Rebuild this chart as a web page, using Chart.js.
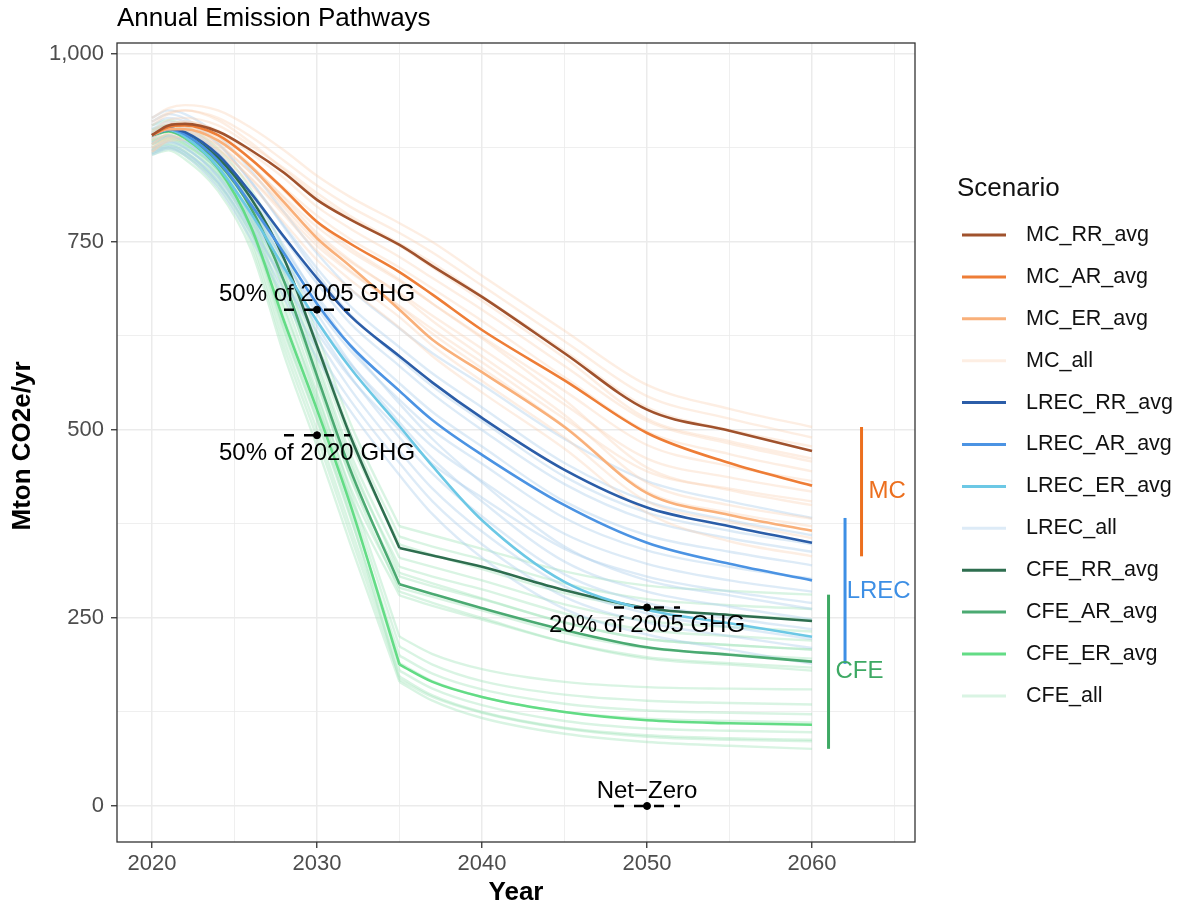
<!DOCTYPE html>
<html><head><meta charset="utf-8">
<script src="https://cdn.jsdelivr.net/npm/chart.js@4.4.0/dist/chart.umd.min.js"></script>
<style>html,body{margin:0;padding:0;background:#fff;overflow:hidden}</style>
</head><body>
<canvas id="c" width="1179" height="909"></canvas>
<script>
// ---------------- DATA ----------------
const years = [2020, 2021, 2022, 2024, 2026, 2028, 2030, 2032, 2035, 2037, 2040, 2045, 2050, 2055, 2060];

const MC_RR_avg   = [892, 905, 907, 897, 872, 842, 806, 780, 746, 718, 677, 602, 527, 499, 472];
const MC_AR_avg   = [892, 903, 905, 892, 860, 820, 777, 748, 710, 680, 633, 566, 496, 456, 426];
const MC_ER_avg   = [892, 900, 900, 885, 850, 803, 755, 718, 660, 620, 577, 504, 416, 387, 366];
const LREC_RR_avg = [892, 901, 896, 866, 815, 757, 702, 652, 598, 563, 516, 447, 397, 372, 350];
const LREC_AR_avg = [892, 900, 893, 858, 800, 735, 668, 613, 552, 513, 467, 400, 350, 322, 300];
const LREC_ER_avg = [892, 899, 890, 850, 788, 716, 645, 583, 505, 452, 380, 298, 261, 243, 225];
const CFE_RR_avg  = [892, 899, 893, 862, 808, 728, 612, 493, 343, 333, 318, 287, 263, 254, 246];
const CFE_AR_avg  = [892, 898, 890, 856, 795, 698, 572, 448, 295, 282, 263, 234, 211, 201, 192];
const CFE_ER_avg  = [892, 897, 888, 848, 770, 645, 527, 402, 188, 165, 145, 125, 114, 110, 108];

const MC_all = [
 [915, 928, 932, 925, 902, 872, 838, 810, 775, 750, 705, 632, 560, 528, 504],
 [905, 920, 925, 915, 890, 858, 825, 797, 762, 736, 692, 618, 545, 515, 490],
 [898, 912, 915, 905, 878, 848, 815, 785, 748, 722, 678, 605, 530, 500, 478],
 [890, 905, 910, 898, 868, 835, 797, 768, 730, 702, 660, 585, 512, 482, 458],
 [885, 900, 903, 890, 860, 822, 785, 754, 716, 688, 645, 570, 498, 468, 445],
 [880, 895, 898, 884, 850, 810, 770, 738, 698, 668, 624, 552, 480, 452, 432],
 [875, 890, 894, 878, 842, 800, 758, 724, 682, 652, 608, 534, 462, 437, 418],
 [870, 886, 890, 872, 835, 790, 745, 710, 665, 634, 590, 515, 445, 422, 405],
 [895, 908, 910, 896, 860, 818, 776, 742, 700, 668, 622, 540, 450, 420, 400],
 [888, 900, 902, 888, 852, 808, 762, 726, 680, 645, 598, 520, 430, 400, 382],
 [880, 894, 896, 880, 842, 796, 750, 712, 664, 628, 582, 505, 418, 390, 372],
 [875, 888, 890, 874, 834, 786, 738, 700, 650, 612, 565, 490, 405, 378, 356],
 [910, 922, 925, 912, 882, 846, 810, 782, 745, 716, 672, 596, 515, 485, 462],
 [870, 884, 886, 868, 826, 776, 726, 688, 636, 598, 550, 475, 390, 352, 332]
];
const LREC_all = [
 [915, 925, 920, 892, 845, 790, 735, 688, 635, 602, 560, 488, 432, 405, 383],
 [905, 915, 910, 880, 830, 772, 715, 665, 610, 575, 530, 456, 405, 380, 360],
 [895, 906, 900, 868, 815, 755, 695, 642, 585, 548, 500, 428, 380, 356, 338],
 [888, 898, 892, 858, 802, 740, 678, 624, 562, 524, 478, 405, 360, 338, 320],
 [880, 890, 884, 848, 790, 726, 662, 606, 540, 500, 455, 383, 340, 318, 302],
 [872, 882, 875, 838, 778, 712, 645, 588, 520, 478, 432, 362, 322, 300, 285],
 [868, 876, 868, 830, 768, 698, 630, 570, 500, 455, 410, 342, 305, 285, 270],
 [900, 910, 904, 870, 812, 745, 675, 612, 535, 488, 430, 345, 300, 280, 262],
 [890, 900, 893, 856, 796, 726, 655, 590, 510, 462, 405, 325, 285, 265, 248],
 [882, 892, 884, 846, 784, 712, 638, 572, 490, 442, 385, 308, 270, 250, 235],
 [875, 884, 876, 836, 772, 698, 622, 555, 472, 422, 365, 292, 256, 238, 222],
 [870, 878, 870, 828, 762, 686, 608, 540, 456, 405, 348, 278, 244, 226, 210],
 [910, 920, 914, 882, 830, 770, 708, 654, 595, 558, 512, 438, 390, 366, 348],
 [866, 874, 865, 822, 754, 676, 596, 526, 440, 388, 330, 262, 228, 208, 189]
];
const CFE_all = [
 [905, 912, 905, 874, 820, 740, 628, 510, 372, 360, 342, 312, 293, 286, 281],
 [898, 905, 898, 866, 810, 728, 615, 498, 358, 345, 328, 296, 275, 267, 262],
 [890, 897, 890, 858, 802, 718, 603, 485, 348, 334, 315, 283, 262, 254, 248],
 [885, 892, 884, 852, 795, 708, 592, 470, 330, 318, 300, 268, 246, 238, 232],
 [880, 887, 879, 846, 786, 696, 578, 455, 318, 305, 288, 256, 234, 226, 220],
 [876, 883, 874, 840, 778, 686, 565, 440, 305, 292, 275, 244, 222, 214, 208],
 [872, 879, 870, 834, 770, 675, 550, 425, 290, 278, 260, 230, 210, 202, 196],
 [868, 875, 866, 828, 762, 665, 538, 412, 280, 266, 248, 218, 198, 190, 184],
 [895, 902, 893, 860, 800, 708, 586, 462, 310, 296, 276, 244, 222, 214, 208],
 [882, 889, 880, 846, 782, 688, 562, 438, 285, 270, 250, 218, 196, 188, 180],
 [900, 906, 897, 862, 790, 660, 545, 420, 225, 202, 182, 165, 158, 156, 155],
 [892, 898, 889, 853, 780, 650, 535, 410, 212, 188, 166, 148, 140, 137, 135],
 [886, 892, 882, 845, 772, 640, 522, 396, 200, 176, 155, 136, 127, 124, 122],
 [880, 886, 876, 838, 764, 630, 512, 385, 190, 166, 145, 125, 116, 113, 111],
 [874, 880, 870, 830, 755, 620, 500, 372, 180, 156, 134, 113, 103, 100, 98],
 [870, 876, 865, 824, 748, 610, 490, 362, 172, 147, 125, 104, 94, 90, 88],
 [866, 872, 860, 818, 740, 600, 478, 350, 165, 140, 117, 96, 85, 80, 76],
 [884, 890, 880, 842, 768, 634, 515, 388, 168, 145, 124, 103, 92, 88, 86]
];
const cfeKinkYear = 2035;

const scenarioNames = ['MC_RR_avg','MC_AR_avg','MC_ER_avg','MC_all',
  'LREC_RR_avg','LREC_AR_avg','LREC_ER_avg','LREC_all',
  'CFE_RR_avg','CFE_AR_avg','CFE_ER_avg','CFE_all'];

const targetLabels = ['50% of 2005 GHG', '50% of 2020 GHG', '20% of 2005 GHG', 'Net\u2212Zero'];
const targetYears  = [2030, 2030, 2050, 2050];
const targetValues = [660, 493, 264, 0];

const groupNames   = ['MC', 'LREC', 'CFE'];
const bracketYears = [2063, 2062, 2061];

const yTicks = [0, 125, 250, 375, 500, 625, 750, 875, 1000];
const yMajor = [0, 250, 500, 750, 1000];
const xTicks = [2020, 2025, 2030, 2035, 2040, 2045, 2050, 2055, 2060, 2065];
const xMajor = [2020, 2030, 2040, 2050, 2060];

// ---------------- STYLE ----------------
const FONT = '"Liberation Sans", Arial, Helvetica, sans-serif';
const colors = {
  MC_RR_avg:'#A0522D', MC_AR_avg:'#EE7D36', MC_ER_avg:'#F9B07A', MC_all:'rgba(249,205,175,0.35)',
  LREC_RR_avg:'#2B5DA8', LREC_AR_avg:'#4B93E3', LREC_ER_avg:'#6CC8E5', LREC_all:'rgba(170,205,235,0.4)',
  CFE_RR_avg:'#2E6E4F', CFE_AR_avg:'#4BAA72', CFE_ER_avg:'#63DC85', CFE_all:'rgba(160,228,185,0.4)'
};
const groupColors = {MC:'#EC6F1E', LREC:'#3D8FE5', CFE:'#3EA964'};

const pts = arr => years.map((x, i) => ({x, y: arr[i]}));
const kIdx = years.indexOf(cfeKinkYear);
const datasets = [];
function addLine(arr, name, width, order, kinked){
  const base = {label:name, borderColor:colors[name], borderWidth:width, pointRadius:0,
    cubicInterpolationMode:'monotone', order};
  const p = pts(arr);
  if (kinked) {
    datasets.push(Object.assign({}, base, {data:p.slice(0, kIdx + 1)}));
    datasets.push(Object.assign({}, base, {data:p.slice(kIdx)}));
  } else {
    datasets.push(Object.assign({}, base, {data:p}));
  }
}
MC_all.forEach(a => addLine(a, 'MC_all', 2.4, 10, false));
LREC_all.forEach(a => addLine(a, 'LREC_all', 2.4, 10, false));
CFE_all.forEach(a => addLine(a, 'CFE_all', 2.4, 10, true));
const avgs = {MC_RR_avg, MC_AR_avg, MC_ER_avg, LREC_RR_avg, LREC_AR_avg, LREC_ER_avg, CFE_RR_avg, CFE_AR_avg, CFE_ER_avg};
Object.keys(avgs).forEach(k => addLine(avgs[k], k, 2.6, 5, k.startsWith('CFE')));

// brackets: range of each group's lines at the final year
const groupLines = {
  MC: MC_all.concat([MC_RR_avg, MC_AR_avg, MC_ER_avg]),
  LREC: LREC_all.concat([LREC_RR_avg, LREC_AR_avg, LREC_ER_avg]),
  CFE: CFE_all.concat([CFE_RR_avg, CFE_AR_avg, CFE_ER_avg])
};
const bracketRange = {};
groupNames.forEach((g, i) => {
  const ends = groupLines[g].map(a => a[a.length - 1]);
  const lo = Math.min(...ends), hi = Math.max(...ends);
  bracketRange[g] = [lo, hi];
  datasets.push({label:'br_'+g, data:[{x:bracketYears[i], y:lo},{x:bracketYears[i], y:hi}],
    borderColor:groupColors[g], borderWidth:3, pointRadius:0, order:4});
});
// targets: dashed segment + dot
targetLabels.forEach((t, i) => {
  datasets.push({label:'tg'+i, data:[{x:targetYears[i]-2, y:targetValues[i]},{x:targetYears[i]+2, y:targetValues[i]}],
    borderColor:'#000', borderWidth:2.5, borderDash:[10,10], pointRadius:0, order:1});
  datasets.push({label:'td'+i, type:'scatter', data:[{x:targetYears[i], y:targetValues[i]}],
    backgroundColor:'#000', borderColor:'#000', pointRadius:3.5, order:0});
});

const decor = {
  id:'decor',
  afterDatasetsDraw(chart){
    const {ctx, scales:{x, y}} = chart;
    ctx.save();
    ctx.font = '24px ' + FONT; ctx.fillStyle = '#000';
    ctx.textAlign = 'center'; ctx.textBaseline = 'middle';
    const above = [true, false, false, true];
    targetLabels.forEach((t, i) => {
      const px = x.getPixelForValue(targetYears[i]), py = y.getPixelForValue(targetValues[i]);
      ctx.fillText(t, px, py + (above[i] ? -15 : 18));
    });
    ctx.textAlign = 'left';
    const nudge = [0.42, 0.1, 0.42];
    groupNames.forEach((g, i) => {
      const r = bracketRange[g];
      ctx.fillStyle = groupColors[g];
      ctx.fillText(g, x.getPixelForValue(bracketYears[i] + nudge[i]), y.getPixelForValue((r[0] + r[1]) / 2));
    });
    ctx.restore();
  },
  afterDraw(chart){
    const {ctx, chartArea:a} = chart;
    ctx.save();
    ctx.strokeStyle = '#333'; ctx.lineWidth = 1.3;
    ctx.strokeRect(a.left, a.top, a.right - a.left, a.bottom - a.top);
    ctx.fillStyle = '#000';
    ctx.font = '26px ' + FONT; ctx.textAlign = 'left'; ctx.textBaseline = 'middle';
    ctx.fillText('Annual Emission Pathways', a.left, 19);
    ctx.font = 'bold 26px ' + FONT; ctx.textAlign = 'center';
    ctx.fillText('Year', (a.left + a.right) / 2, 893);
    ctx.save(); ctx.translate(23, 446); ctx.rotate(-Math.PI / 2);
    ctx.fillText('Mton CO2e/yr', 0, 0); ctx.restore();
    // legend
    ctx.textAlign = 'left'; ctx.font = '26px ' + FONT; ctx.fillStyle = '#111';
    ctx.fillText('Scenario', 957, 189);
    ctx.font = '21.5px ' + FONT;
    scenarioNames.forEach((n, i) => {
      const yy = 235 + i * 41.9;
      ctx.strokeStyle = colors[n]; ctx.lineWidth = 3;
      ctx.beginPath(); ctx.moveTo(962, yy); ctx.lineTo(1006, yy); ctx.stroke();
      ctx.fillStyle = '#111'; ctx.fillText(n, 1026, yy);
    });
    ctx.restore();
  }
};

new Chart(document.getElementById('c'), {
  type:'line',
  data:{datasets},
  options:{
    responsive:false, animation:false, devicePixelRatio:1,
    layout:{padding:{left:0, top:43, right:264, bottom:0}},
    plugins:{legend:{display:false}, title:{display:false}, tooltip:{enabled:false}},
    scales:{
      x:{type:'linear', min:2017.88, max:2066.24,
        afterBuildTicks: s => { s.ticks = xTicks.map(v => ({value:v})); },
        afterFit: s => { s.height = 67; },
        ticks:{autoSkip:false, maxRotation:0, padding:3, color:'#4D4D4D', font:{family:FONT, size:22},
          callback: v => xMajor.includes(v) ? String(v) : ''},
        grid:{color:'#EBEBEB', lineWidth: c => xMajor.includes(c.tick && c.tick.value) ? 1.5 : 0.8,
          tickLength:6, tickWidth:1.3,
          tickColor: c => xMajor.includes(c.tick && c.tick.value) ? '#333' : 'rgba(0,0,0,0)'},
        border:{display:false}
      },
      y:{type:'linear', min:-47.9, max:1014.6,
        afterBuildTicks: s => { s.ticks = yTicks.map(v => ({value:v})); },
        afterFit: s => { s.width = 117; },
        ticks:{autoSkip:false, padding:7, color:'#4D4D4D', font:{family:FONT, size:22},
          callback: v => yMajor.includes(v) ? v.toLocaleString('en-US') : ''},
        grid:{color:'#EBEBEB', lineWidth: c => yMajor.includes(c.tick && c.tick.value) ? 1.5 : 0.8,
          tickLength:6, tickWidth:1.3,
          tickColor: c => yMajor.includes(c.tick && c.tick.value) ? '#333' : 'rgba(0,0,0,0)'},
        border:{display:false}
      }
    }
  },
  plugins:[decor]
});
</script>
</body></html>
